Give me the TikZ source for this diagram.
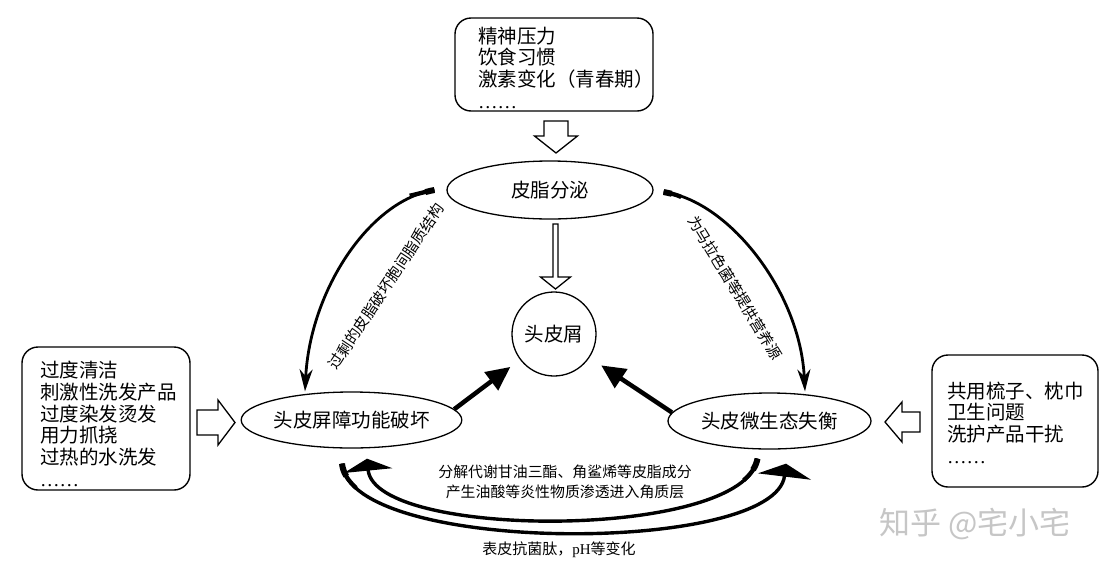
\documentclass[tikz,border=0pt]{standalone}
\usepackage{fontspec}
\newfontfamily\cjk{Noto Sans CJK SC}
\newfontfamily\lat{Liberation Serif}
\usetikzlibrary{shapes.geometric,arrows.meta,calc}
\tikzset{
 boxsty/.style={draw, line width=1.4pt, rounded corners=16pt, inner sep=0pt},
 listtxt/.style={font=\cjk\fontsize{19.5}{21.7}\selectfont, align=left, inner sep=0pt, anchor=west},
 oval/.style={ellipse, draw, line width=1.3pt, inner sep=0pt, minimum width=205pt, minimum height=57pt, font=\cjk\fontsize{19.5}{21.7}\selectfont},
 roundsty/.style={circle, draw, line width=1.3pt, minimum size=84pt, inner sep=0pt, font=\cjk\fontsize{19.5}{21.7}\selectfont},
 hollow/.style={draw, line width=1.3pt, fill=white, line join=miter},
 boldarrow/.style={line width=4.5pt, -{Triangle[length=24pt,width=22pt]}},
 arcarrow/.style={line width=2.8pt, -{Stealth[length=22pt,width=13pt]}},
 flatarrow/.style={line width=3.4pt},
 thickA/.style={line width=4.3pt},
 thickB/.style={line width=6pt},
 smalltxt/.style={font=\cjk\fontsize{15}{20}\selectfont, inner sep=0pt},
}
\begin{document}
\begin{tikzpicture}[x=1pt,y=-1pt]
\useasboundingbox (0,0) rectangle (1106,571);
\fill[white] (0,0) rectangle (1106,571);

% boxes
\node[boxsty, minimum width=198pt, minimum height=93pt] (topbox) at (554,64.5) {};
\node[listtxt] (toptxt) at (478,67.5) {精神压力\\饮食习惯\\激素变化（青春期）\\{\lat ……}};
\node[boxsty, minimum width=168pt, minimum height=143pt] (leftbox) at (106,418.5) {};
\node[listtxt] (lefttxt) at (40,424) {过度清洁\\刺激性洗发产品\\过度染发烫发\\用力抓挠\\过热的水洗发\\{\lat ……}};
\node[boxsty, minimum width=166pt, minimum height=132pt] (rightbox) at (1015,421) {};
\node[listtxt] (righttxt) at (947,422.5) {共用梳子、枕巾\\卫生问题\\洗护产品干扰\\{\lat ……}};

% ellipses and circle
\node[oval, minimum width=206pt, minimum height=58pt] (sebum) at (550,190) {皮脂分泌};
\node[oval, minimum width=203pt, minimum height=56pt] (barrier) at (351.5,420) {头皮屏障功能破坏};
\node[oval, minimum width=203pt, minimum height=56pt] (micro) at (769.5,421) {头皮微生态失衡};
\node[roundsty] (dandruff) at (554,334) {头皮屑};

% hollow arrows
\coordinate (topgap) at (556,137);
\draw[hollow, shift={(topgap)}] (-12,-16) -- (12,-16) -- (12,-1) -- (21.5,-1) -- (0,16) -- (-21.5,-1) -- (-12,-1) -- cycle;
\coordinate (midgap) at (555.5,256.5);
\draw[hollow, shift={(midgap)}] (-2.5,-32.5) -- (2.5,-32.5) -- (2.5,20.5) -- (15,20.5) -- (0,32.5) -- (-15,20.5) -- (-2.5,20.5) -- cycle;
\coordinate (leftgap) at (216,422.5);
\draw[hollow, shift={(leftgap)}] (-19,-12.5) -- (2,-12.5) -- (2,-22.5) -- (19,0) -- (2,22.5) -- (2,12.5) -- (-19,12.5) -- cycle;
\coordinate (rightgap) at (902.5,422);
\draw[hollow, shift={(rightgap)}] (-17.5,0) -- (-0.5,-20) -- (-0.5,-10) -- (17.5,-10) -- (17.5,10) -- (-0.5,10) -- (-0.5,20) -- cycle;

% curved arrows top
\draw[arcarrow] ($(sebum.west)+(-12,0)$) .. controls (370,200) and (310,290) .. ($(barrier.north)+(-46.5,0)$);
\draw[thickA] ($(sebum.west)+(-12,0)$) .. controls (427.2,191.2) and (419.5,193.6) .. (409.7,195.7);
\draw[thickB] ($(sebum.west)+(-12,0)$) .. controls (431.8,190.5) and (428.5,191.2) .. (425.3,192.1);
\draw[arcarrow] ($(sebum.east)+(10,2)$) .. controls (727,200) and (800,290) .. ($(micro.north)+(35.5,-1)$);
\draw[thickA] ($(sebum.east)+(10,2)$) .. controls (669.8,193) and (677.7,195.1) .. (681.2,197);
\draw[thickB] ($(sebum.east)+(10,2)$) .. controls (665.3,192.4) and (668.5,193) .. (671.8,193.8);

% bold arrows
\draw[boldarrow, shorten >=12pt] (barrier.6) -- (dandruff);
\draw[boldarrow, shorten >=14pt] (micro.175) -- (dandruff);

% bottom arcs
\draw[flatarrow, -{Triangle[length=12pt,width=48pt]}] ($(micro.south)+(-12,9)$) .. controls (745,540) and (375,540) .. ($(barrier.south)+(15.5,10)$);
\draw[thickA] ($(micro.south)+(-12,9)$) .. controls (756.2,466.2) and (751.4,473.6) .. (743.7,480.2);
\draw[thickB] ($(micro.south)+(-12,9)$) .. controls (756.9,462.1) and (755.4,466) .. (753,469.7);
\draw[flatarrow, -{Triangle[length=13pt,width=53pt]}] ($(barrier.south)+(-9.5,15)$) .. controls (350,555) and (775,555) .. ($(micro.south)+(16.5,14)$);
\draw[thickA] ($(barrier.south)+(-9.5,15)$) .. controls (342.8,472.2) and (347.8,480.5) .. (356.1,487.9);
\draw[thickB] ($(barrier.south)+(-9.5,15)$) .. controls (342.4,467.6) and (343.8,472) .. (346.2,476.1);

% labels
\node[smalltxt, rotate=56.5] (lbl1) at (386,286.5) {过剩的皮脂破坏胞间脂质结构};
\node[smalltxt, rotate=-58.5] (lbl2) at (735,287.5) {为马拉色菌等提供营养源};
\node[smalltxt, font=\cjk\fontsize{14.9}{20}\selectfont, align=center] (lbl3) at (565,482) {分解代谢甘油三酯、角鲨烯等皮脂成分\\产生油酸等炎性物质渗透进入角质层};
\node[smalltxt] (lbl4) at (559,550) {表皮抗菌肽，{\lat pH}等变化};

% watermark
\node[font=\cjk\fontsize{31}{31}\selectfont, text=gray!45, inner sep=0pt] (mark) at (975,524) {知乎 @宅小宅};
\end{tikzpicture}
\end{document}
